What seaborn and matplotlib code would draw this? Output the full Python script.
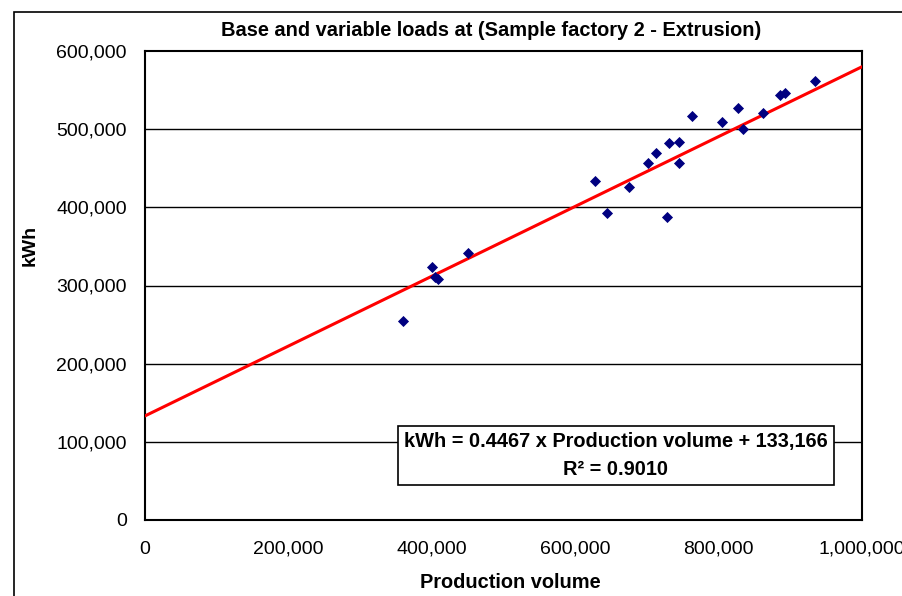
import numpy as np
import pandas as pd
import matplotlib
matplotlib.use('Agg')
import matplotlib.pyplot as plt
import matplotlib.patches as patches
import seaborn as sns

# 数据：生产量与用电量
production = [359400, 399900, 404500, 409000, 450100, 627600, 644800, 675000,
              702000, 712300, 730800, 744800, 745200, 728300, 763300, 805200,
              826600, 833600, 861500, 885600, 892600, 934400]
kwh = [254600, 324000, 310500, 308000, 342000, 433800, 393100, 426400,
       456700, 469100, 481900, 484000, 457100, 387200, 516800, 509600,
       526700, 500000, 521100, 543700, 546600, 561600]

# 回归结果
slope = 0.4467
intercept = 133166
r2 = 0.9010

x_ticks = [0, 200000, 400000, 600000, 800000, 1000000]
y_ticks = [0, 100000, 200000, 300000, 400000, 500000, 600000]

df = pd.DataFrame({'Production volume': production, 'kWh': kwh})
line_x = np.array([x_ticks[0], x_ticks[-1]])
line_df = pd.DataFrame({'x': line_x, 'y': slope * line_x + intercept})

sns.set_theme(style='white')
plt.rcParams['font.family'] = ['Liberation Sans', 'DejaVu Sans']
plt.rcParams['text.color'] = 'black'
plt.rcParams['xtick.color'] = 'black'
plt.rcParams['ytick.color'] = 'black'

W, H = 903, 596
fig = plt.figure(figsize=(W / 100, H / 100), dpi=100)
ax = fig.add_axes([145 / W, 1 - 520 / H, 717 / W, 469 / H])

# 网格线
for yv in y_ticks[1:-1]:
    ax.axhline(yv, color='black', lw=1.0, zorder=1)

sns.lineplot(data=line_df, x='x', y='y', color='#ff0000', lw=2.2, ax=ax, zorder=3)
sns.scatterplot(data=df, x='Production volume', y='kWh', marker='D', s=32,
                color='#000080', edgecolor='#000080', linewidth=0, ax=ax, zorder=4)

ax.set_xlim(x_ticks[0], x_ticks[-1])
ax.set_ylim(y_ticks[0], y_ticks[-1])
ax.set_xticks(x_ticks)
ax.set_yticks(y_ticks)
ax.set_xticklabels([f'{v:,}' for v in x_ticks])
ax.set_yticklabels([f'{v:,}' for v in y_ticks])
ax.tick_params(axis='x', direction='in', length=5, width=1, color='black', pad=15, labelsize=14)
ax.tick_params(axis='y', direction='in', length=0, pad=13, labelsize=14)
ax.set_xlabel('')
ax.set_ylabel('')
for sp in ax.spines.values():
    sp.set_color('black')
    sp.set_linewidth(1.5)

# 方程文本框
ax.text(656900, 81900,
        f'kWh = {slope} x Production volume + {intercept:,}\nR\u00b2 = {r2:.4f}',
        ha='center', va='center', ma='center', fontsize=14.4, fontweight='bold',
        linespacing=1.6, zorder=5,
        bbox=dict(boxstyle='square,pad=0.3', fc='white', ec='black', lw=1.2))

# 标题与轴标签
fig.text(491 / W, 1 - 30 / H, 'Base and variable loads at (Sample factory 2 - Extrusion)',
         ha='center', va='center', fontsize=14.4, fontweight='bold')
fig.text(30 / W, 1 - 245 / H, 'kWh', rotation=90, ha='center', va='center',
         fontsize=14, fontweight='bold')
fig.text(510 / W, 1 - 583 / H, 'Production volume', ha='center', va='center',
         fontsize=14.4, fontweight='bold')

# 外框
fig.patches.append(patches.Rectangle((14 / W, -0.1), 1.2, 1.1 - 12 / H,
                                     transform=fig.transFigure, fill=False,
                                     ec='black', lw=1.2))

fig.savefig('out.png', dpi=100)
